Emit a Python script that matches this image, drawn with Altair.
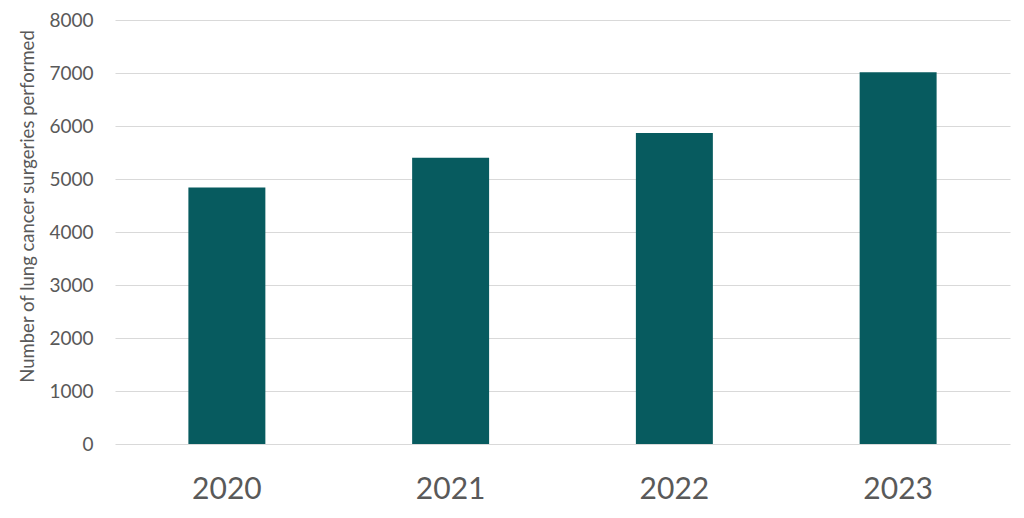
import altair as alt
import pandas as pd

years = ["2020", "2021", "2022", "2023"]
surgeries = [4840, 5400, 5870, 7015]
y_ticks = [0, 1000, 2000, 3000, 4000, 5000, 6000, 7000, 8000]

df = pd.DataFrame({"year": years, "surgeries": surgeries})

chart = alt.Chart(df).mark_bar(color="#075b5f").encode(
    x=alt.X("year:N", sort=years, title=None,
            scale=alt.Scale(paddingInner=0.656, paddingOuter=0.328),
            axis=alt.Axis(labelAngle=0, labelFontSize=30, labelColor="#595959",
                          labelFont="Lato", labelPadding=30, ticks=False, domain=False)),
    y=alt.Y("surgeries:Q", title="Number of lung cancer surgeries performed",
            scale=alt.Scale(domain=[0, 8000], nice=False),
            axis=alt.Axis(values=y_ticks, format="d", labelFontSize=19, labelColor="#595959",
                          labelFont="Lato", labelPadding=22, ticks=False, domain=False,
                          gridColor="#d9d9d9", gridWidth=1.2,
                          titleFont="Lato", titleFontSize=18.5, titleFontWeight="normal",
                          titleColor="#595959", titleX=-88, titleY=186,
                          titleAngle=-90, titleAlign="center", titleBaseline="middle")),
).properties(
    width=895, height=424,
    autosize=alt.AutoSizeParams(type="none"),
    padding={"left": 107, "top": 12, "right": 6, "bottom": 60},
).configure_view(stroke=None)

chart.save("out.html", embed_options={"renderer": "svg", "actions": False})
